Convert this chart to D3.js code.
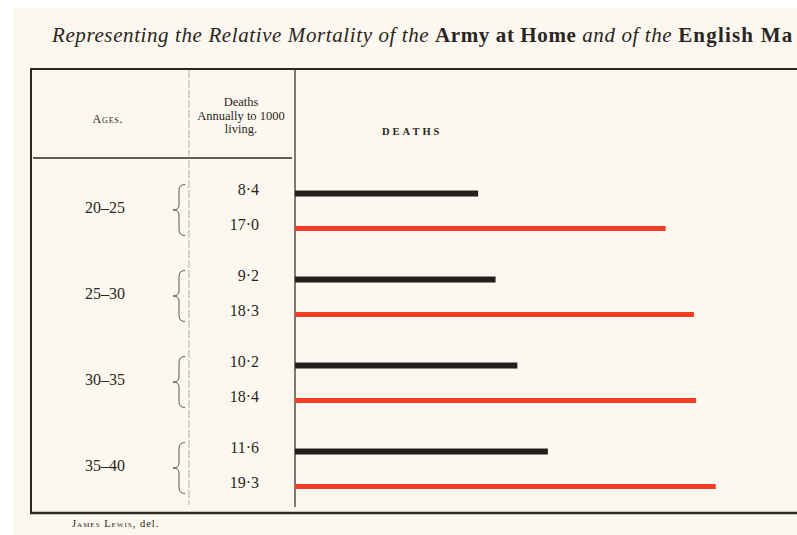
<!DOCTYPE html>
<html lang="en">
<head>
    <meta charset="UTF-8">
    <title>Relative Mortality</title>
    <style>
        body {
            margin: 0;
            background: #ffffff;
        }
        text {
            font-family: "Liberation Serif", "DejaVu Serif", serif;
            fill: #2a2622;
        }
    </style>
</head>
<body>
<div id="chart"></div>
<script src="https://d3js.org/d3.v7.min.js"></script>
<script>
    // data
    const ages = ["20–25", "25–30", "30–35", "35–40"];
    const series = ["army", "civil"];
    const armyDeaths = [8.4, 9.2, 10.2, 11.6];    // army at home (black)
    const civilDeaths = [17.0, 18.3, 18.4, 19.3]; // english male population (red)

    const width = 797, height = 535;

    const svg = d3.select("#chart")
        .append("svg")
        .attr("width", width)
        .attr("height", height);

    // paper
    svg.append("rect")
        .attr("x", 13).attr("y", 8)
        .attr("width", width - 13).attr("height", height - 8)
        .attr("fill", "#fcf8ef");

    // title (the plate is cropped on the right, as in the original)
    const title = svg.append("text")
        .attr("x", 52)
        .attr("y", 42)
        .style("font-size", "21px");
    title.append("tspan").style("font-style", "italic").style("letter-spacing", "0.6px")
        .text("Representing the Relative Mortality of the ");
    title.append("tspan").style("font-weight", "bold").style("letter-spacing", "0.6px")
        .text("Army at Home");
    title.append("tspan").style("font-style", "italic").style("letter-spacing", "0.6px")
        .text(" and of the ");
    title.append("tspan").style("font-weight", "bold").style("letter-spacing", "1.2px")
        .text("English Ma");

    // scales
    const x = d3.scaleLinear()
        .domain([0, 20])
        .range([295, 731]);

    const y = d3.scaleBand()
        .domain(ages)
        .range([168, 512]);

    const sub = d3.scalePoint()
        .domain(series)
        .range([0, y.bandwidth()])
        .padding(0.73);

    const color = d3.scaleOrdinal()
        .domain(series)
        .range(["#231f1c", "#f23d24"]);

    const thick = {army: 6, civil: 5};

    const rows = [];
    ages.forEach(function (a, i) {
        rows.push({age: a, key: "army", value: armyDeaths[i]});
        rows.push({age: a, key: "civil", value: civilDeaths[i]});
    });

    // table frame
    const ink = "#2b2723";
    svg.append("line").attr("x1", 30).attr("x2", width).attr("y1", 69).attr("y2", 69)
        .attr("stroke", ink).attr("stroke-width", 2);
    svg.append("line").attr("x1", 31).attr("x2", 31).attr("y1", 69).attr("y2", 513)
        .attr("stroke", ink).attr("stroke-width", 2);
    svg.append("line").attr("x1", 30).attr("x2", width).attr("y1", 513).attr("y2", 513)
        .attr("stroke", ink).attr("stroke-width", 2.5);
    svg.append("line").attr("x1", 33).attr("x2", 292).attr("y1", 158).attr("y2", 158)
        .attr("stroke", ink).attr("stroke-width", 1.5);
    svg.append("line").attr("x1", 189).attr("x2", 189).attr("y1", 70).attr("y2", 505)
        .attr("stroke", "#a8a299").attr("stroke-width", 0.8)
        .attr("stroke-dasharray", "8,2");
    svg.append("line").attr("x1", x(0)).attr("x2", x(0)).attr("y1", 70).attr("y2", 507)
        .attr("stroke", "#3a3631").attr("stroke-width", 1.3);

    // headers
    svg.append("text")
        .attr("x", 108).attr("y", 123)
        .attr("text-anchor", "middle")
        .style("font-size", "12px")
        .style("font-variant", "small-caps")
        .style("letter-spacing", "0.8px")
        .text("Ages.");

    const hd = svg.append("text")
        .attr("text-anchor", "middle")
        .style("font-size", "12.5px");
    ["Deaths", "Annually to 1000", "living."].forEach(function (s, i) {
        hd.append("tspan").attr("x", 241).attr("y", 106 + i * 13.5).text(s);
    });

    svg.append("text")
        .attr("x", 382).attr("y", 135)
        .style("font-size", "10.5px")
        .style("font-weight", "bold")
        .style("letter-spacing", "3px")
        .text("DEATHS");

    // age labels + braces
    const groups = svg.selectAll(".ageGroup")
        .data(ages)
        .join("g")
        .attr("class", "ageGroup")
        .attr("transform", function (d) { return `translate(0, ${y(d)})`; });

    groups.append("text")
        .attr("x", 105)
        .attr("y", y.bandwidth() / 2 - 2)
        .attr("text-anchor", "middle")
        .attr("dominant-baseline", "middle")
        .style("font-size", "16px")
        .text(function (d) { return d; });

    groups.append("path")
        .attr("fill", "none")
        .attr("stroke", "#4a453f")
        .attr("stroke-width", 0.9)
        .attr("d", function () {
            const top = sub("army") - 9, bot = sub("civil") + 7, mid = (top + bot) / 2;
            const xr = 185, xm = 179, xp = 173;
            const p = d3.path();
            p.moveTo(xr, top);
            p.quadraticCurveTo(xm, top, xm, top + 6);
            p.lineTo(xm, mid - 5);
            p.quadraticCurveTo(xm, mid, xp, mid);
            p.quadraticCurveTo(xm, mid, xm, mid + 5);
            p.lineTo(xm, bot - 6);
            p.quadraticCurveTo(xm, bot, xr, bot);
            return p.toString();
        });

    // values
    svg.selectAll(".val")
        .data(rows)
        .join("text")
        .attr("class", "val")
        .attr("x", 259)
        .attr("y", function (d) { return y(d.age) + sub(d.key) - 2; })
        .attr("text-anchor", "end")
        .attr("dominant-baseline", "middle")
        .style("font-size", "16px")
        .text(function (d) { return d.value.toFixed(1).replace(".", "·"); });

    // bars
    svg.selectAll(".bar")
        .data(rows)
        .join("rect")
        .attr("class", "bar")
        .attr("x", x(0))
        .attr("y", function (d) { return y(d.age) + sub(d.key) - thick[d.key] / 2; })
        .attr("width", function (d) { return x(d.value) - x(0); })
        .attr("height", function (d) { return thick[d.key]; })
        .attr("fill", function (d) { return color(d.key); });

    // engraver credit
    const credit = svg.append("text")
        .attr("x", 72).attr("y", 527)
        .style("font-size", "10.5px")
        .style("letter-spacing", "1px");
    credit.append("tspan").style("font-variant", "small-caps").text("James Lewis, ");
    credit.append("tspan").text("del.");
</script>
</body>
</html>
